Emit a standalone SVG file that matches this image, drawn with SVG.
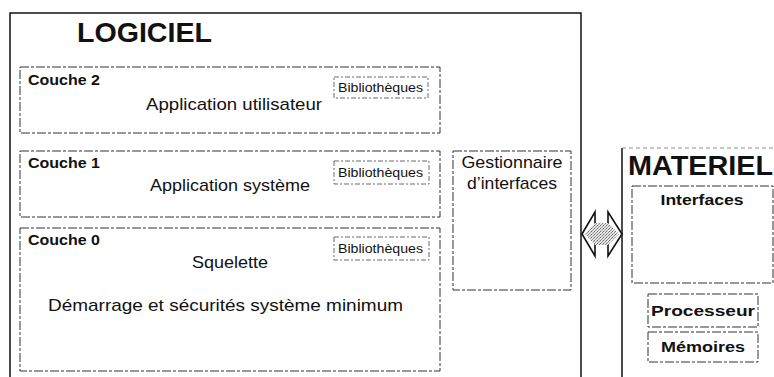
<svg xmlns="http://www.w3.org/2000/svg" width="774" height="377" viewBox="0 0 774 377">
<defs>
<pattern id="hatch" width="3" height="3" patternUnits="userSpaceOnUse">
<rect width="3" height="3" fill="#e6e6e6"/>
<rect width="1" height="1" fill="#666"/>
<rect x="2" y="1" width="1" height="1" fill="#888"/>
<rect x="1" y="2" width="1" height="1" fill="#999"/>
</pattern>
</defs>
<style>
.t{font-family:"Liberation Sans",Arial,sans-serif;fill:#111}
.b{font-weight:bold}
.box{fill:none;stroke:#333;stroke-width:1;stroke-dasharray:9 2 3 2}
.lib{fill:none;stroke:#444;stroke-width:0.8;stroke-dasharray:5 2 2 2}
.solid{fill:none;stroke:#111;stroke-width:1.5}
</style>
<rect width="774" height="377" fill="#fff"/>

<g id="logiciel">
<path class="solid" d="M10,377 V13 H581 V377"/>
<text class="t b" x="77" y="42" font-size="28" textLength="135" lengthAdjust="spacingAndGlyphs">LOGICIEL</text>
</g>

<g id="couche2">
<rect class="box" x="20" y="67" width="420" height="66"/>
<text class="t b" x="28" y="85" font-size="15.5" textLength="72" lengthAdjust="spacingAndGlyphs">Couche 2</text>
<text class="t" x="146" y="110" font-size="17" textLength="176" lengthAdjust="spacingAndGlyphs">Application utilisateur</text>
<g id="lib2">
<rect class="lib" x="334" y="77" width="94" height="21"/>
<text class="t" x="338" y="92" font-size="12.5" textLength="85" lengthAdjust="spacingAndGlyphs">Bibliothèques</text>
</g>
</g>

<g id="couche1">
<rect class="box" x="20" y="151" width="420" height="66"/>
<text class="t b" x="28" y="168" font-size="15.5" textLength="72" lengthAdjust="spacingAndGlyphs">Couche 1</text>
<text class="t" x="150" y="191" font-size="17" textLength="160" lengthAdjust="spacingAndGlyphs">Application système</text>
<g id="lib1">
<rect class="lib" x="334" y="161" width="95" height="23"/>
<text class="t" x="338" y="177" font-size="12.5" textLength="85" lengthAdjust="spacingAndGlyphs">Bibliothèques</text>
</g>
</g>

<g id="couche0">
<rect class="box" x="20" y="228" width="420" height="143"/>
<text class="t b" x="28" y="245" font-size="15.5" textLength="72" lengthAdjust="spacingAndGlyphs">Couche 0</text>
<text class="t" x="192" y="268" font-size="17" textLength="76" lengthAdjust="spacingAndGlyphs">Squelette</text>
<text class="t" x="48" y="311" font-size="17" textLength="355" lengthAdjust="spacingAndGlyphs">Démarrage et sécurités système minimum</text>
<g id="lib0">
<rect class="lib" x="334" y="237" width="95" height="23"/>
<text class="t" x="338" y="253" font-size="12.5" textLength="85" lengthAdjust="spacingAndGlyphs">Bibliothèques</text>
</g>
</g>

<g id="gestionnaire">
<rect class="box" x="453" y="151" width="118" height="139"/>
<text class="t" x="512" y="168" font-size="17" text-anchor="middle" textLength="101" lengthAdjust="spacingAndGlyphs">Gestionnaire</text>
<text class="t" x="512" y="189" font-size="17" text-anchor="middle" textLength="90" lengthAdjust="spacingAndGlyphs">d’interfaces</text>
</g>

<g id="materiel">
<path class="solid" d="M622,377 V148" stroke-width="1.2"/>
<path d="M622,148 H774" fill="none" stroke="#777" stroke-width="0.8" stroke-dasharray="4 3"/>
<text class="t b" x="628" y="175" font-size="27" textLength="145" lengthAdjust="spacingAndGlyphs">MATERIEL</text>
</g>

<g id="interfaces">
<rect class="box" x="632" y="186" width="141" height="97"/>
<text class="t b" x="702" y="205" font-size="15" text-anchor="middle" textLength="83" lengthAdjust="spacingAndGlyphs">Interfaces</text>
</g>

<g id="processeur">
<rect class="box" x="648" y="294" width="110" height="33"/>
<text class="t b" x="703" y="316" font-size="15" text-anchor="middle" textLength="104" lengthAdjust="spacingAndGlyphs">Processeur</text>
</g>

<g id="memoires">
<rect class="box" x="648" y="332" width="110" height="30"/>
<text class="t b" x="703" y="352" font-size="15" text-anchor="middle" textLength="84" lengthAdjust="spacingAndGlyphs">Mémoires</text>
</g>

<g id="connectors">
<polygon points="582,234 595,212 595,225 608,225 608,212 622,234 608,256 608,243 595,243 595,256" fill="#fff" stroke="#111" stroke-width="1.6" stroke-linejoin="miter"/>
<polygon points="585,234 595,223 608,223 619,234 608,245 595,245" fill="url(#hatch)"/>
</g>
</svg>
